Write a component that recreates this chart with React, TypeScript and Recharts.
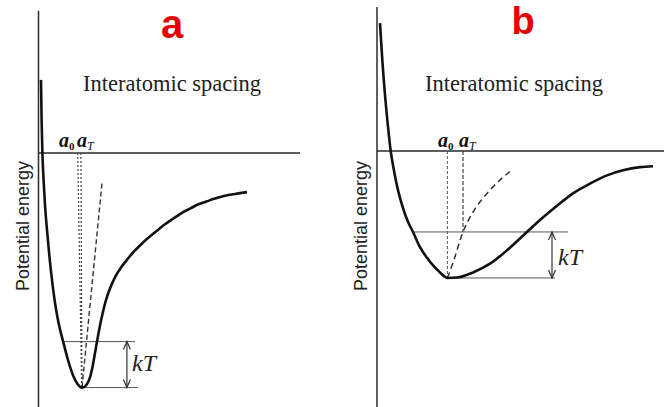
import { ComposedChart, Line, XAxis, YAxis, ReferenceLine } from 'recharts'

// spacing r in arbitrary units (0 at the energy axis), energy e in units of kT

// a: deep, symmetric well
const curveA = [
  { r: 0.0625, e: 1.59 },
  { r: 0.0775, e: 0.72 },
  { r: 0.0975, e: 0 },
  { r: 0.1275, e: -0.59 },
  { r: 0.1625, e: -1.13 },
  { r: 0.2125, e: -1.67 },
  { r: 0.27, e: -2.22 },
  { r: 0.3375, e: -2.76 },
  { r: 0.42, e: -3.3 },
  { r: 0.5125, e: -3.74 },
  { r: 0.6125, e: -4.09 },
  { r: 0.7375, e: -4.5 },
  { r: 0.8625, e: -4.83 },
  { r: 0.975, e: -5.02 },
  { r: 1.0875, e: -5.1 },
  { r: 1.1875, e: -5.05 },
  { r: 1.275, e: -4.91 },
  { r: 1.35, e: -4.65 },
  { r: 1.4125, e: -4.35 },
  { r: 1.4625, e: -4.1 },
  { r: 1.5375, e: -3.75 },
  { r: 1.6125, e: -3.45 },
  { r: 1.6875, e: -3.2 },
  { r: 1.7625, e: -3.0 },
  { r: 1.8375, e: -2.84 },
  { r: 1.9375, e: -2.66 },
  { r: 2.0625, e: -2.49 },
  { r: 2.2125, e: -2.32 },
  { r: 2.3875, e: -2.14 },
  { r: 2.5375, e: -2.01 },
  { r: 2.7375, e: -1.85 },
  { r: 2.9625, e: -1.69 },
  { r: 3.1625, e: -1.55 },
  { r: 3.3625, e: -1.43 },
  { r: 3.5875, e: -1.3 },
  { r: 3.7875, e: -1.21 },
  { r: 3.9875, e: -1.12 },
  { r: 4.2125, e: -1.05 },
  { r: 4.4125, e: -0.99 },
  { r: 4.6125, e: -0.94 },
  { r: 4.9125, e: -0.89 },
  { r: 5.2125, e: -0.85 },
]
const locusA = [
  { r: 1.0875, e: -5.1 },
  { r: 1.5875, e: -0.65 },
]
const a0LineA = [{ r: 0.98, e: 0 }, { r: 1.08, e: -5.1 }]
const aTLineA = [{ r: 1.06, e: 0 }, { r: 1.0875, e: -5.1 }]
const minA = { r: 1.0875, e: -5.1 }
const kTLevelA = -4.1

// b: shallow, asymmetric well
const curveB = [
  { r: 0.075, e: 2.78 },
  { r: 0.1325, e: 1.98 },
  { r: 0.2, e: 1.22 },
  { r: 0.275, e: 0.53 },
  { r: 0.3425, e: 0 },
  { r: 0.425, e: -0.43 },
  { r: 0.525, e: -0.85 },
  { r: 0.65, e: -1.24 },
  { r: 0.775, e: -1.54 },
  { r: 0.9, e: -1.76 },
  { r: 1.075, e: -2.09 },
  { r: 1.25, e: -2.32 },
  { r: 1.425, e: -2.51 },
  { r: 1.575, e: -2.64 },
  { r: 1.675, e: -2.72 },
  { r: 1.76, e: -2.76 },
  { r: 2.0, e: -2.75 },
  { r: 2.4, e: -2.64 },
  { r: 2.825, e: -2.45 },
  { r: 3.25, e: -2.16 },
  { r: 3.675, e: -1.82 },
  { r: 4.075, e: -1.5 },
  { r: 4.5, e: -1.19 },
  { r: 4.9, e: -0.92 },
  { r: 5.325, e: -0.71 },
  { r: 5.75, e: -0.53 },
  { r: 6.15, e: -0.42 },
  { r: 6.575, e: -0.35 },
  { r: 6.9, e: -0.33 },
]
const locusB = [
  { r: 1.76, e: -2.76 },
  { r: 1.9, e: -2.43 },
  { r: 2.15, e: -1.76 },
  { r: 2.4, e: -1.33 },
  { r: 2.825, e: -0.85 },
  { r: 3.375, e: -0.41 },
]
const minB = { r: 1.76, e: -2.76 }
const aTB = 2.15
const kTLevelB = -1.76

const INK = '#111'
const AXIS = '#2a2a2a'
const THIN = '#555'

const KtArrow = (p: any) => {
  const { x1, y1, y2 } = p
  const top = Math.min(y1, y2)
  const bot = Math.max(y1, y2)
  return (
    <g stroke="#333" strokeWidth={1.2} fill="none">
      <line x1={x1} y1={top} x2={x1} y2={bot} />
      <polyline points={`${x1 - 3.5},${top + 8} ${x1},${top} ${x1 + 3.5},${top + 8}`} />
      <polyline points={`${x1 - 3.5},${bot - 8} ${x1},${bot} ${x1 + 3.5},${bot - 8}`} />
    </g>
  )
}

function WellA() {
  return (
    <ComposedChart width={332} height={411} margin={{ top: 5.8, right: 1.5, bottom: 0.4, left: 38.5 }}>
      <XAxis type="number" dataKey="r" domain={[0, 7.3]} hide />
      <YAxis type="number" dataKey="e" domain={[-5.6, 3.2]} hide />
      <ReferenceLine segment={[{ x: 0, y: 3.09 }, { x: 0, y: -5.6 }]} stroke={AXIS} strokeWidth={1.5} ifOverflow="visible" />
      <ReferenceLine segment={[{ x: 0, y: 0 }, { x: 6.54, y: 0 }]} stroke={AXIS} strokeWidth={1.5} ifOverflow="visible" />
      <ReferenceLine segment={[{ x: 0.61, y: kTLevelA }, { x: 2.41, y: kTLevelA }]} stroke={THIN} strokeWidth={1} ifOverflow="visible" />
      <ReferenceLine segment={[{ x: minA.r, y: minA.e }, { x: 2.49, y: minA.e }]} stroke={THIN} strokeWidth={1} ifOverflow="visible" />
      <ReferenceLine segment={[{ x: 2.21, y: kTLevelA }, { x: 2.21, y: minA.e }]} shape={KtArrow} ifOverflow="visible" />
      <ReferenceLine segment={[{ x: a0LineA[0].r, y: a0LineA[0].e }, { x: a0LineA[1].r, y: a0LineA[1].e }]} stroke="#444" strokeWidth={1.2} strokeDasharray="2 2" ifOverflow="visible" />
      <ReferenceLine segment={[{ x: aTLineA[0].r, y: aTLineA[0].e }, { x: aTLineA[1].r, y: aTLineA[1].e }]} stroke="#444" strokeWidth={1.2} strokeDasharray="2 2" ifOverflow="visible" />
      <Line data={locusA} dataKey="e" type="linear" stroke="#333" strokeWidth={1.4} strokeDasharray="5 3" dot={false} isAnimationActive={false} />
      <Line data={curveA} dataKey="e" type="monotone" stroke={INK} strokeWidth={2.6} dot={false} isAnimationActive={false} />
    </ComposedChart>
  )
}

function WellB() {
  return (
    <ComposedChart width={333} height={411} margin={{ top: 3.8, right: 0, bottom: 2.4, left: 45 }}>
      <XAxis type="number" dataKey="r" domain={[0, 7.2]} hide />
      <YAxis type="number" dataKey="e" domain={[-5.6, 3.2]} hide />
      <ReferenceLine segment={[{ x: 0, y: 3.13 }, { x: 0, y: -5.6 }]} stroke={AXIS} strokeWidth={1.5} ifOverflow="visible" />
      <ReferenceLine segment={[{ x: 0, y: 0 }, { x: 7.2, y: 0 }]} stroke={AXIS} strokeWidth={1.5} ifOverflow="visible" />
      <ReferenceLine segment={[{ x: 0.925, y: kTLevelB }, { x: 4.775, y: kTLevelB }]} stroke={THIN} strokeWidth={1} ifOverflow="visible" />
      <ReferenceLine segment={[{ x: minB.r, y: minB.e }, { x: 4.45, y: minB.e }]} stroke={THIN} strokeWidth={1} ifOverflow="visible" />
      <ReferenceLine segment={[{ x: 4.375, y: kTLevelB }, { x: 4.375, y: minB.e }]} shape={KtArrow} ifOverflow="visible" />
      <ReferenceLine segment={[{ x: minB.r, y: 0 }, { x: minB.r, y: minB.e }]} stroke="#555" strokeWidth={1} strokeDasharray="3 2" ifOverflow="visible" />
      <ReferenceLine segment={[{ x: aTB, y: 0 }, { x: aTB, y: kTLevelB }]} stroke="#444" strokeWidth={1.2} strokeDasharray="4 2" ifOverflow="visible" />
      <Line data={locusB} dataKey="e" type="monotone" stroke="#333" strokeWidth={1.5} strokeDasharray="6 4" dot={false} isAnimationActive={false} />
      <Line data={curveB} dataKey="e" type="monotone" stroke={INK} strokeWidth={2.6} dot={false} isAnimationActive={false} />
    </ComposedChart>
  )
}

const serif = '"Liberation Serif", "DejaVu Serif", serif'
const sans = '"Liberation Sans", Arial, sans-serif'

function Labels({ dx, title, titleX, titleY, titleSize, spacingX, energyX, a0X, aTX, kTX, kTY }: any) {
  return (
    <g transform={`translate(${dx},0)`}>
      <text x={titleX} y={titleY} textAnchor="middle" fill="#e60000" fontFamily={sans} fontWeight="bold" fontSize={titleSize}>{title}</text>
      <text x={spacingX} y={91} fill="#222" fontFamily={serif} fontSize={22.5}>Interatomic spacing</text>
      <text transform={`translate(${energyX},226) rotate(-90)`} textAnchor="middle" fill="#222" fontFamily={sans} fontSize={18}>Potential energy</text>
      <text x={a0X} y={147} fill="#111" fontFamily={serif} fontStyle="italic" fontWeight="bold" fontSize={20}>
        a<tspan fontSize={11} dy={3} fontStyle="normal">0</tspan>
      </text>
      <text x={aTX} y={147} fill="#111" fontFamily={serif} fontStyle="italic" fontWeight="bold" fontSize={20}>
        a<tspan fontSize={12} dy={3} fontWeight="normal">T</tspan>
      </text>
      <text x={kTX} y={kTY} fill="#222" fontFamily={serif} fontStyle="italic" fontSize={24}>kT</text>
    </g>
  )
}

export default function App() {
  return (
    <div style={{ position: 'relative', width: 664, height: 407, overflow: 'hidden', background: '#fff' }}>
      <style>{'body{margin:0}'}</style>
      <div style={{ position: 'absolute', left: 0, top: 0 }}>
        <WellA />
      </div>
      <div style={{ position: 'absolute', left: 332, top: 0 }}>
        <WellB />
      </div>
      <svg width={664} height={407} style={{ position: 'absolute', left: 0, top: 0, pointerEvents: 'none' }}>
        <Labels dx={0} title="a" titleX={172} titleY={38} titleSize={40} spacingX={83} energyX={29} a0X={59} aTX={77} kTX={132} kTY={371} />
        <Labels dx={332} title="b" titleX={191} titleY={34} titleSize={38} spacingX={93} energyX={35} a0X={106} aTX={127} kTX={226} kTY={265} />
      </svg>
    </div>
  )
}
